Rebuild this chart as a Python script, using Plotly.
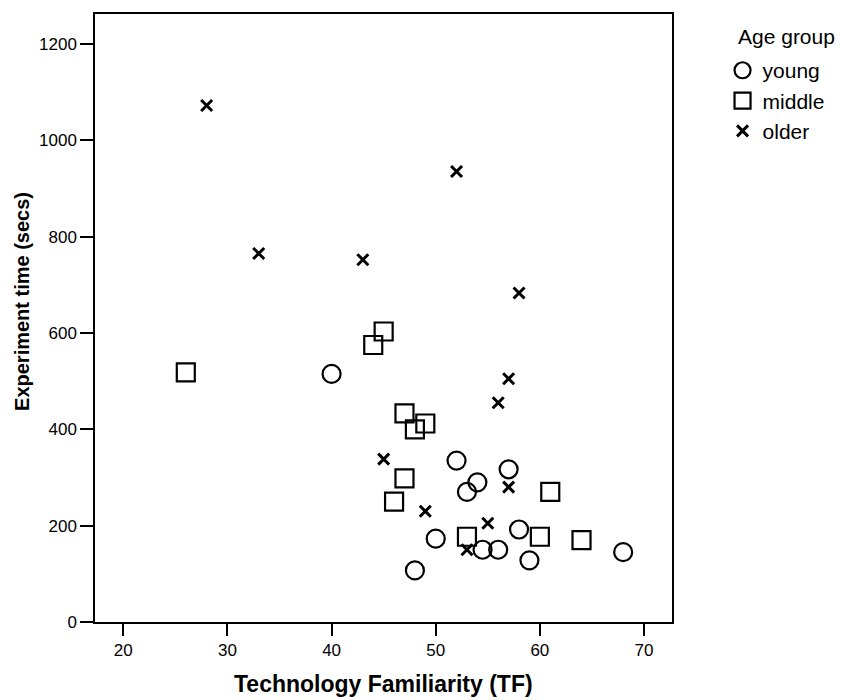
import plotly.graph_objects as go

young_tf = [40, 52, 57, 54, 53, 50, 48, 58, 54.5, 56, 59, 68]
young_time = [515, 335, 317, 290, 270, 173, 107, 192, 150, 150, 128, 145]

middle_tf = [26, 45, 44, 47, 49, 48, 47, 46, 53, 61, 60, 64]
middle_time = [518, 603, 575, 433, 412, 400, 298, 250, 177, 270, 177, 170]

older_tf = [28, 33, 43, 52, 58, 57, 56, 45, 57, 49, 55, 53]
older_time = [1072, 765, 752, 935, 683, 505, 455, 338, 280, 230, 205, 150]

x_ticks = [20, 30, 40, 50, 60, 70]
y_ticks = [0, 200, 400, 600, 800, 1000, 1200]

fig = go.Figure()
fig.add_trace(go.Scatter(x=young_tf, y=young_time, mode="markers", name="young",
                         marker=dict(symbol="circle-open", size=18, color="black",
                                     line=dict(width=2.2, color="black"))))
fig.add_trace(go.Scatter(x=middle_tf, y=middle_time, mode="markers", name="middle",
                         marker=dict(symbol="square-open", size=18, color="black",
                                     line=dict(width=2.2, color="black"))))
fig.add_trace(go.Scatter(x=older_tf, y=older_time, mode="markers", name="older",
                         marker=dict(symbol="x-thin-open", size=11, color="black",
                                     line=dict(width=3, color="black"))))

font_family = "Liberation Sans, Arial, sans-serif"
fig.update_layout(
    width=842, height=700,
    margin=dict(l=95, r=166, t=12, b=78),
    paper_bgcolor="white", plot_bgcolor="white",
    font=dict(family=font_family, color="black", size=17),
    legend=dict(
        x=1.0876, xanchor="left", y=0.9406, yanchor="top",
        font=dict(size=21, family=font_family),
        itemwidth=30, tracegroupgap=0,
        bgcolor="rgba(0,0,0,0)",
    ),
    xaxis=dict(
        range=[17.28, 72.69], tickvals=x_ticks, ticks="outside", ticklen=12,
        tickwidth=1.5, tickcolor="black", showline=True, linecolor="black",
        linewidth=1.5, mirror=True, showgrid=False, zeroline=False,
        tickfont=dict(size=17),
    ),
    yaxis=dict(
        range=[0, 1262], tickvals=y_ticks, ticks="outside", ticklen=13,
        tickwidth=1.5, tickcolor="black", showline=True, linecolor="black",
        linewidth=1.5, mirror=True, showgrid=False, zeroline=False,
        tickfont=dict(size=17),
    ),
    annotations=[
        dict(text="<b>Technology Familiarity (TF)</b>", xref="paper", yref="paper",
             x=0.5, y=-(684 - 622) / 610, xanchor="center", yanchor="middle", showarrow=False,
             font=dict(size=23, family=font_family)),
        dict(text="<b>Experiment time (secs)</b>", xref="paper", yref="paper",
             x=-0.1267, y=(622 - 300) / 610, xanchor="center", yanchor="middle", showarrow=False,
             textangle=-90, font=dict(size=20, family=font_family)),
        dict(text="Age group", xref="paper", yref="paper",
             x=(740 - 95.5) / 580.2, y=(622 - 35) / 610, xanchor="left", yanchor="middle",
             showarrow=False, font=dict(size=21, family=font_family)),
    ],
)

fig.write_html("out.html")
